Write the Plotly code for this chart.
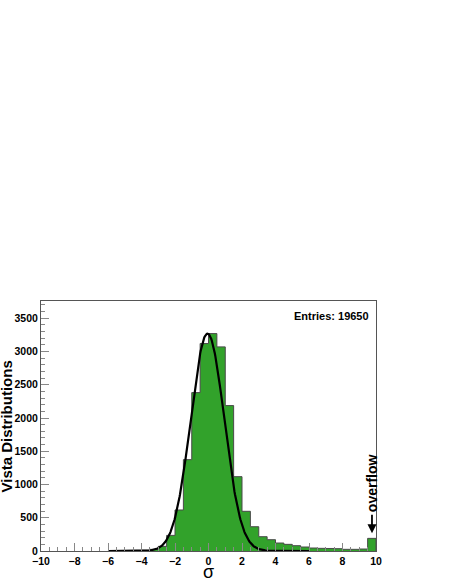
import numpy as np
import plotly.graph_objects as go

# histogram bins (lower edges, width 0.5) and counts
bin_lo = [-6.0, -5.5, -5.0, -4.5, -4.0, -3.5, -3.0, -2.5, -2.0, -1.5, -1.0, -0.5,
          0.0, 0.5, 1.0, 1.5, 2.0, 2.5, 3.0, 3.5, 4.0, 4.5, 5.0, 5.5,
          6.0, 6.5, 7.0, 7.5, 8.0, 8.5, 9.0, 9.5]
counts = [1, 2, 3, 5, 10, 25, 70, 235, 617, 1374, 2382, 3120,
          3270, 3070, 2187, 1118, 597, 365, 215, 170, 120, 100, 80, 60,
          45, 40, 38, 35, 25, 25, 30, 190]
bin_w = 0.5

# gaussian fit parameters
fit_amp = 3270
fit_mean = -0.06
fit_sigma = 1.0
fit_range = [-6, 6]

x_ticks = [-10, -8, -6, -4, -2, 0, 2, 4, 6, 8, 10]
y_ticks = [0, 500, 1000, 1500, 2000, 2500, 3000, 3500]

green = "#32a22b"
font = "Liberation Sans, Arial, Helvetica, sans-serif"

# step outline of the histogram (ROOT style, no inner bar edges)
step_x = [bin_lo[0]] + bin_lo + [bin_lo[-1] + bin_w, bin_lo[-1] + bin_w]
step_y = [0] + counts + [counts[-1], 0]

xf = np.linspace(fit_range[0], fit_range[1], 400)
yf = fit_amp * np.exp(-0.5 * ((xf - fit_mean) / fit_sigma) ** 2)

fig = go.Figure()
fig.add_scatter(x=step_x, y=step_y, mode="lines", line_shape="hv", fill="tozeroy",
                fillcolor=green, line=dict(color="#4a4a4a", width=1))
fig.add_scatter(x=xf, y=yf, mode="lines", line=dict(color="black", width=2.2))

axis_font = dict(family=font, size=10.5, color="black", weight="bold")
fig.update_xaxes(range=[-10, 10], tickvals=x_ticks, ticks="inside", ticklen=8,
                 tickcolor="#888", showline=True, linecolor="#555", linewidth=1,
                 mirror=True, showgrid=False, zeroline=False, tickfont=axis_font,
                 automargin=False,
                 minor=dict(dtick=0.5, ticks="inside", ticklen=4, tickcolor="#888"))
fig.update_yaxes(range=[0, 3760], tickvals=y_ticks, ticks="inside", ticklen=8,
                 tickcolor="#888", showline=True, linecolor="#555", linewidth=1,
                 mirror=True, showgrid=False, zeroline=False, tickfont=axis_font,
                 automargin=False,
                 minor=dict(dtick=100, ticks="inside", ticklen=4, tickcolor="#888"))

# axis titles
fig.add_annotation(text="Vista Distributions", xref="paper", yref="paper",
                   x=-0.103, y=0.5, textangle=-90, showarrow=False,
                   xanchor="center", yanchor="middle",
                   font=dict(family=font, size=15, color="black", weight="bold"))
fig.add_annotation(text="σ", xref="paper", yref="paper", x=0.5, y=-0.082,
                   showarrow=False, xanchor="center", yanchor="middle",
                   font=dict(family=font, size=18, color="black"))

fig.add_annotation(text="Entries: 19650", xref="paper", yref="paper", x=0.985, y=0.939,
                   xanchor="right", yanchor="middle", showarrow=False,
                   font=dict(family=font, size=11, color="black", weight="bold"))
# overflow label with a downward arrow onto the last bin
fig.add_annotation(text="overflow", x=9.76, y=1020, textangle=-90, showarrow=False,
                   font=dict(family=font, size=14, color="black", weight="bold"))
fig.add_annotation(text="", x=9.76, y=266, ax=0, ay=-20, showarrow=True,
                   arrowhead=2, arrowsize=1, arrowwidth=1.8, arrowcolor="black")

fig.update_layout(width=450, height=582, showlegend=False,
                  plot_bgcolor="white", paper_bgcolor="white",
                  margin=dict(l=41, r=74, t=301, b=31))
# drop the default 8px body margin so the figure fills the window
fig.write_html("out.html", config={"displayModeBar": False},
               post_script="document.body.style.margin = '0';")
